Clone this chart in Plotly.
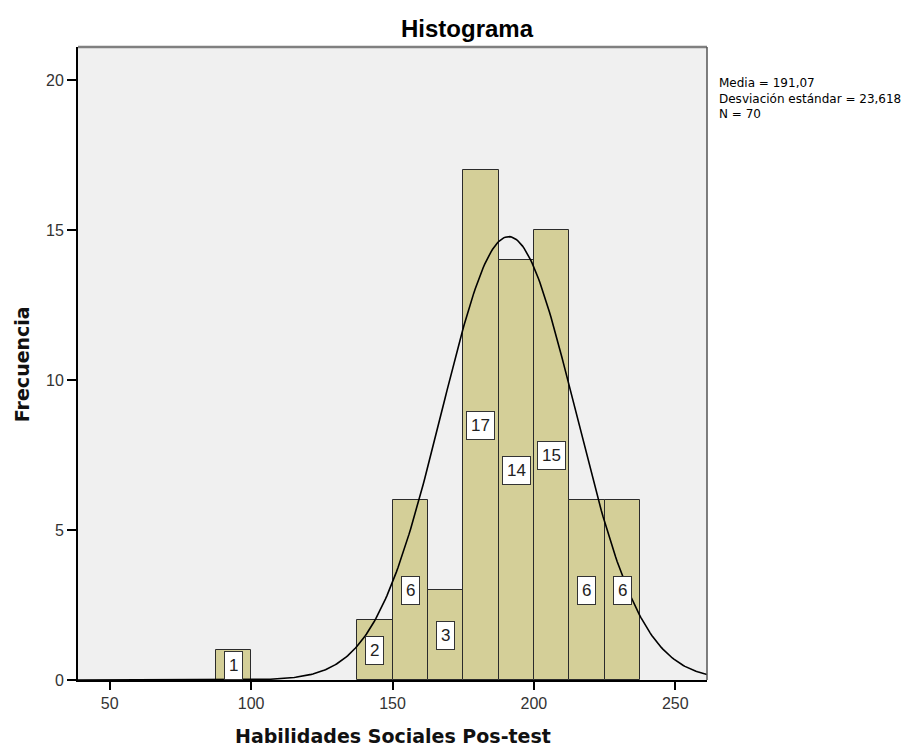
import numpy as np
import plotly.graph_objects as go

bin_starts = [87.5, 137.5, 150, 162.5, 175, 187.5, 200, 212.5, 225]
counts = [1, 2, 6, 3, 17, 14, 15, 6, 6]
bin_width = 12.5
mean = 191.07
sd = 23.618
n = 70
x_ticks = [50, 100, 150, 200, 250]
y_ticks = [0, 5, 10, 15, 20]
stats_lines = ["Media = 191,07", "Desviación estándar = 23,618", "N = 70"]

x_range = [38.8, 261.2]
y_range = [0, 21.1]

centers = [b + bin_width / 2 for b in bin_starts]

fig = go.Figure()
fig.add_trace(go.Bar(
    x=centers, y=counts, width=bin_width,
    marker=dict(color="#D4CF98", line=dict(color="#2b2b2b", width=1)),
    hoverinfo="skip",
))

xs = np.linspace(x_range[0], x_range[1], 400)
ys = n * bin_width / (sd * np.sqrt(2 * np.pi)) * np.exp(-0.5 * ((xs - mean) / sd) ** 2)
fig.add_trace(go.Scatter(x=xs, y=ys, mode="lines", line=dict(color="black", width=1.6),
                         hoverinfo="skip", cliponaxis=True))

for c, v in zip(centers, counts):
    fig.add_annotation(x=c, y=v / 2, text=str(v), showarrow=False,
                       font=dict(family="Liberation Sans, Arial", size=17, color="#222"),
                       bgcolor="white", bordercolor="#333", borderwidth=1, borderpad=4)

# title
fig.add_annotation(xref="paper", yref="paper", x=0.620, y=1.030, yanchor="middle",
                   text="<b>Histograma</b>", showarrow=False,
                   font=dict(family="Liberation Sans, Arial", size=24, color="black"))

# axis titles
fig.add_annotation(xref="paper", yref="paper", x=0.5008, y=-0.0885, yanchor="middle",
                   text="<b>Habilidades Sociales Pos-test</b>", showarrow=False,
                   font=dict(family="DejaVu Sans", size=19, color="#111"))
fig.add_annotation(xref="paper", yref="paper", x=-0.089, y=0.499, textangle=-90,
                   xanchor="center", yanchor="middle",
                   text="<b>Frecuencia</b>", showarrow=False,
                   font=dict(family="DejaVu Sans", size=19, color="#111"))

# stats box text
fig.add_annotation(xref="paper", yref="paper", x=1.0, y=0.9187, xshift=10,
                   xanchor="left", yanchor="middle", align="left",
                   text="<br>".join(stats_lines), showarrow=False,
                   font=dict(family="DejaVu Sans", size=12, color="black"))

fig.update_layout(
    width=911, height=747,
    margin=dict(l=78, r=204, t=47, b=67),
    paper_bgcolor="white", plot_bgcolor="#F0F0F0",
    showlegend=False, bargap=0,
    font=dict(family="Liberation Sans, Arial", color="#333"),
)
fig.update_xaxes(range=x_range, tickvals=x_ticks, ticks="outside", ticklen=8,
                 tickcolor="black", tickwidth=1.5, showline=True, linecolor="black", linewidth=2,
                 showgrid=False, zeroline=False, automargin=False,
                 tickfont=dict(size=16, color="#333"))
fig.update_yaxes(range=y_range, tickvals=y_ticks, ticks="outside", ticklen=9,
                 tickcolor="black", tickwidth=1.5, showline=True, linecolor="black", linewidth=2,
                 showgrid=False, zeroline=False, automargin=False,
                 tickfont=dict(size=16, color="#333"))

fig.add_shape(type="line", xref="paper", yref="paper", x0=0, x1=1, y0=1, y1=1,
              line=dict(color="#808080", width=2.5))
fig.add_shape(type="line", xref="paper", yref="paper", x0=1, x1=1, y0=0, y1=1,
              line=dict(color="#555", width=1.5))

fig.write_html("out.html")
